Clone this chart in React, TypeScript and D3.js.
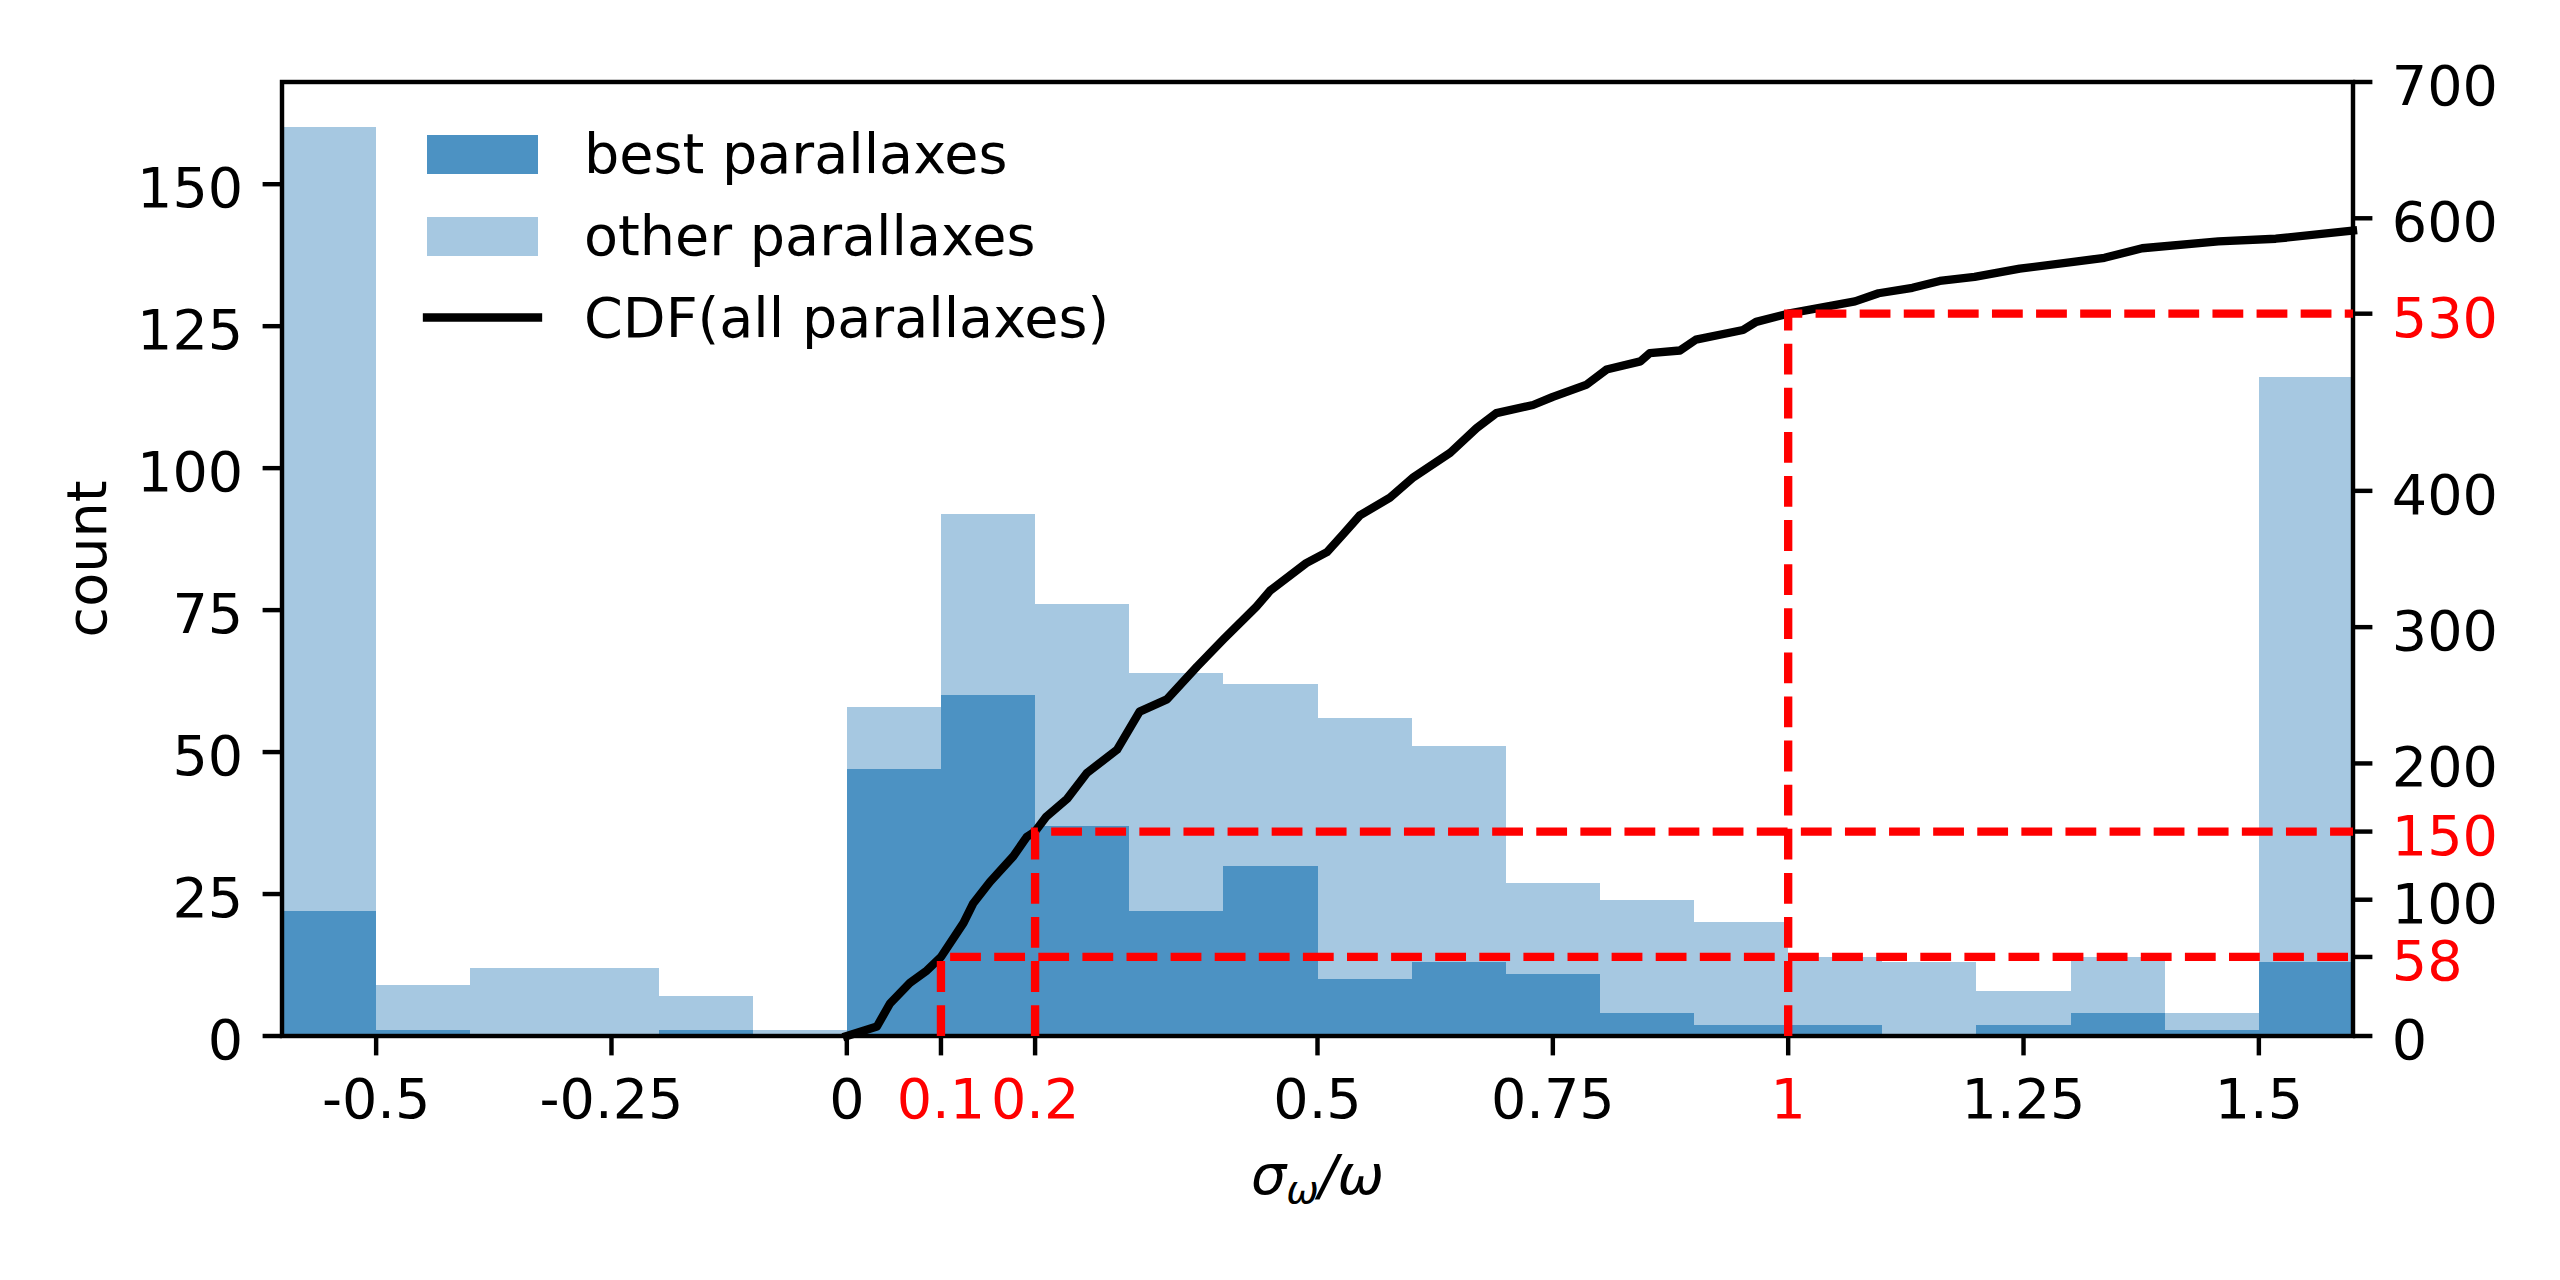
import React from 'react';
import * as d3 from 'd3';

// ---- data ----
const binStarts = [-0.6, -0.5, -0.4, -0.3, -0.2, -0.1, 0, 0.1, 0.2, 0.3, 0.4, 0.5, 0.6, 0.7, 0.8, 0.9, 1.0, 1.1, 1.2, 1.3, 1.4, 1.5];
const binWidth = 0.1;
const bestCounts = [22, 1, 0, 0, 1, 0, 47, 60, 37, 22, 30, 10, 13, 11, 4, 2, 2, 0, 2, 4, 1, 13];
const otherCounts = [138, 8, 12, 12, 6, 1, 11, 32, 39, 42, 32, 46, 38, 16, 20, 18, 12, 13, 6, 10, 3, 103];

const cdfX = [0, 0.032, 0.046, 0.067, 0.085, 0.1, 0.124, 0.134, 0.152, 0.177, 0.191, 0.2, 0.212, 0.234, 0.255, 0.287, 0.311, 0.34, 0.372, 0.4, 0.435, 0.45, 0.488, 0.51, 0.527, 0.545, 0.577, 0.602, 0.641, 0.669, 0.69, 0.729, 0.75, 0.786, 0.807, 0.843, 0.853, 0.885, 0.902, 0.952, 0.966, 1.0, 1.071, 1.096, 1.132, 1.161, 1.198, 1.246, 1.303, 1.336, 1.376, 1.457, 1.518, 1.6];
const cdfY = [0, 7, 24, 39, 48, 58, 83, 97, 113, 132, 146, 150, 161, 174, 193, 210, 238, 247, 271, 291, 315, 327, 347, 355, 368, 382, 395, 410, 428, 446, 457, 463, 469, 478, 489, 495, 501, 503, 511, 518, 524, 530, 539, 545, 549, 554, 557, 563, 568, 571, 578, 583, 585, 591];

const thresholdX = [0.1, 0.2, 1];
const thresholdCdf = [58, 150, 530];

const xTicks = [-0.5, -0.25, 0, 0.1, 0.2, 0.5, 0.75, 1, 1.25, 1.5];
const xTickLabels = ['-0.5', '-0.25', '0', '0.1', '0.2', '0.5', '0.75', '1', '1.25', '1.5'];
const leftTicks = [0, 25, 50, 75, 100, 125, 150];
const rightTicks = [0, 58, 100, 150, 200, 300, 400, 530, 600, 700];

const legendLabels = ['best parallaxes', 'other parallaxes', 'CDF(all parallaxes)'];

// ---- styling ----
const DARK = 'rgb(76,146,195)';
const LIGHT = 'rgb(166,200,225)';
const FONT = 'DejaVu Sans';
const FS = 55.6;
const SPINE = 4.44;
const TICKLEN = 19.4;
const PAD = 19.4;

const L = 282, R = 2353, T = 82, B = 1036;

export default function App() {
  const x = d3.scaleLinear().domain([-0.6, 1.6]).range([L, R]);
  const yL = d3.scaleLinear().domain([0, 168]).range([B, T]);
  const yR = d3.scaleLinear().domain([0, 700]).range([B, T]);

  const table = binStarts.map((s, i) => ({ s, best: bestCounts[i], other: otherCounts[i] }));
  const stacked = d3.stack<any>().keys(['best', 'other'])(table);

  const cdfLine = d3.line<number>()
    .x((_, i) => x(cdfX[i]))
    .y((d) => yR(d))(cdfY);

  const xRed = new Set([0.1, 0.2, 1]);
  const rRed = new Set(thresholdCdf);

  return (
    <svg width={2560} height={1280} style={{ position: 'absolute', left: 0, top: 0, background: '#fff' }}
      fontFamily={FONT} fontSize={FS}>
      <rect x={0} y={0} width={2560} height={1280} fill="#fff" />
      {/* bars */}
      <g shapeRendering="crispEdges">
        {stacked.map((layer, li) => (
          <g key={li} fill={li === 0 ? DARK : LIGHT}>
            {layer.map((d, i) => (
              <rect key={i} x={x(binStarts[i])} width={x(binStarts[i] + binWidth) - x(binStarts[i])}
                y={yL(d[1])} height={Math.max(0, yL(d[0]) - yL(d[1]))} />
            ))}
          </g>
        ))}
      </g>
      {/* frame */}
      <rect x={L} y={T} width={R - L} height={B - T} fill="none" stroke="#000" strokeWidth={SPINE} />
      {/* x ticks */}
      {xTicks.map((t, i) => (
        <g key={i}>
          <line x1={x(t)} x2={x(t)} y1={B} y2={B + TICKLEN} stroke="#000" strokeWidth={SPINE} />
          <text x={x(t)} y={1118} textAnchor="middle" fill={xRed.has(t) ? 'red' : '#000'}>{xTickLabels[i]}</text>
        </g>
      ))}
      {/* left ticks */}
      {leftTicks.map((t, i) => (
        <g key={i}>
          <line x1={L - TICKLEN} x2={L} y1={yL(t)} y2={yL(t)} stroke="#000" strokeWidth={SPINE} />
          <text x={L - TICKLEN - PAD} y={yL(t) + 23} textAnchor="end">{String(t)}</text>
        </g>
      ))}
      {/* right ticks */}
      {rightTicks.map((t, i) => (
        <g key={i}>
          <line x1={R} x2={R + TICKLEN} y1={yR(t)} y2={yR(t)} stroke="#000" strokeWidth={SPINE} />
          <text x={R + TICKLEN + PAD} y={yR(t) + 23} textAnchor="start" fill={rRed.has(t) ? 'red' : '#000'}>{String(t)}</text>
        </g>
      ))}
      {/* axis labels */}
      <text transform={`translate(106, ${(T + B) / 2}) rotate(-90)`} textAnchor="middle">count</text>
      <text x={(L + R) / 2} y={1194} textAnchor="middle" fontStyle="italic">
        <tspan>σ</tspan>
        <tspan fontSize={FS * 0.7} dy={9}>ω</tspan>
        <tspan dy={-9}>/ω</tspan>
      </text>
      {/* CDF */}
      <path d={cdfLine || ''} fill="none" stroke="#000" strokeWidth={8.33} strokeLinejoin="round" strokeLinecap="square" />
      {/* threshold dashed lines */}
      {thresholdX.map((tx, i) => (
        <path key={i}
          d={`M${x(tx)},${yR(0)}L${x(tx)},${yR(thresholdCdf[i])}L${x(1.6)},${yR(thresholdCdf[i])}`}
          fill="none" stroke="red" strokeWidth={8.33} strokeDasharray="30.8 13.3" />
      ))}
      {/* legend */}
      <rect x={427} y={135} width={111} height={39} fill={DARK} />
      <rect x={427} y={217} width={111} height={39} fill={LIGHT} />
      <line x1={427} x2={538} y1={317.5} y2={317.5} stroke="#000" strokeWidth={8.33} strokeLinecap="square" />
      {legendLabels.map((lab, i) => (
        <text key={i} x={584} y={173 + i * 82}>{lab}</text>
      ))}
    </svg>
  );
}
